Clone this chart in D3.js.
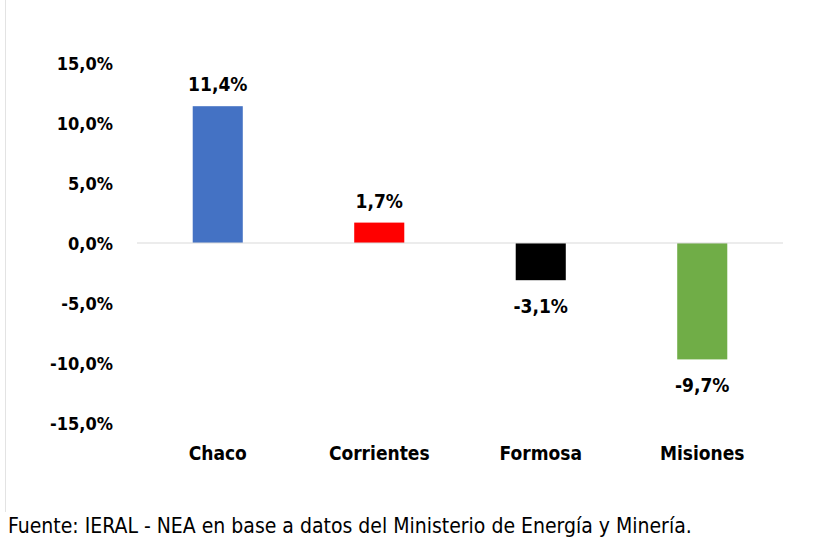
<!DOCTYPE html>
<html>
  <head>
    <meta http-equiv="Content-Type" content="text/html;charset=utf-8"/>
    <title>Variación por provincia</title>
    <script src="https://d3js.org/d3.v7.min.js"></script>
    <style>
      body { margin: 0; background: #fff; }
      text {
        font-family: "DejaVu Sans Condensed", "DejaVu Sans", sans-serif;
        font-stretch: condensed;
        fill: #000;
      }
      .bold { font-weight: bold; font-size: 18px; }
      .big { font-size: 19px; }
      .note { font-size: 21px; }
    </style>
  </head>
  <body>
    <script type="text/javascript">
        const provincias = ['Chaco', 'Corrientes', 'Formosa', 'Misiones']
        const variacion = [11.4, 1.7, -3.1, -9.7]
        const colores = ['#4472C4', '#FF0000', '#000000', '#70AD47']
        const ticks = [15, 10, 5, 0, -5, -10, -15]
        const fuente = 'Fuente: IERAL - NEA en base a datos del Ministerio de Energía y Minería.'

        const width = 835,
              height = 540

        // formato con coma decimal y guion simple
        const fmt = v => v.toFixed(1).replace('.', ',') + '%'

        const svg = d3.select('body').append('svg')
            .attr('width', width)
            .attr('height', height)

        // borde izquierdo de la celda
        svg.append('line')
            .attr('x1', 5.5).attr('x2', 5.5)
            .attr('y1', 0).attr('y2', 512)
            .attr('stroke', '#e3e3e3')

        const x = d3.scaleBand()
            .domain(provincias)
            .range([137, 783])
            .paddingInner(0.69)
            .paddingOuter(0.345)

        const y = d3.scaleLinear()
            .domain([-15, 15])
            .range([423, 63])

        // etiquetas eje y
        svg.append('g')
            .selectAll('text')
            .data(ticks)
            .enter()
            .append('text')
            .attr('class', 'bold')
            .attr('x', 113)
            .attr('y', d => y(d) + 6.5)
            .attr('text-anchor', 'end')
            .text(d => fmt(d))

        const data = provincias.map((p, i) => ({ name: p, value: variacion[i], color: colores[i] }))

        svg.append('g')
            .selectAll('rect')
            .data(data)
            .enter()
            .append('rect')
            .attr('x', d => x(d.name))
            .attr('width', x.bandwidth())
            .attr('y', d => y(Math.max(0, d.value)))
            .attr('height', d => Math.abs(y(d.value) - y(0)))
            .style('fill', d => d.color)

        // línea del cero
        svg.append('line')
            .attr('x1', 137).attr('x2', 783)
            .attr('y1', y(0)).attr('y2', y(0))
            .attr('stroke', '#d9d9d9')
            .attr('stroke-width', 1.2)

        svg.append('g')
            .selectAll('text')
            .data(data)
            .enter()
            .append('text')
            .attr('class', 'bold big')
            .attr('x', d => x(d.name) + x.bandwidth() / 2)
            .attr('y', d => d.value >= 0 ? y(d.value) - 15 : y(d.value) + 33)
            .attr('text-anchor', 'middle')
            .text(d => fmt(d.value))

        svg.append('g')
            .selectAll('text')
            .data(provincias)
            .enter()
            .append('text')
            .attr('class', 'bold big')
            .attr('x', d => x(d) + x.bandwidth() / 2)
            .attr('y', 460)
            .attr('text-anchor', 'middle')
            .text(d => d)

        svg.append('text')
            .attr('class', 'note')
            .attr('x', 8)
            .attr('y', 533)
            .text(fuente)
    </script>
  </body>
</html>
